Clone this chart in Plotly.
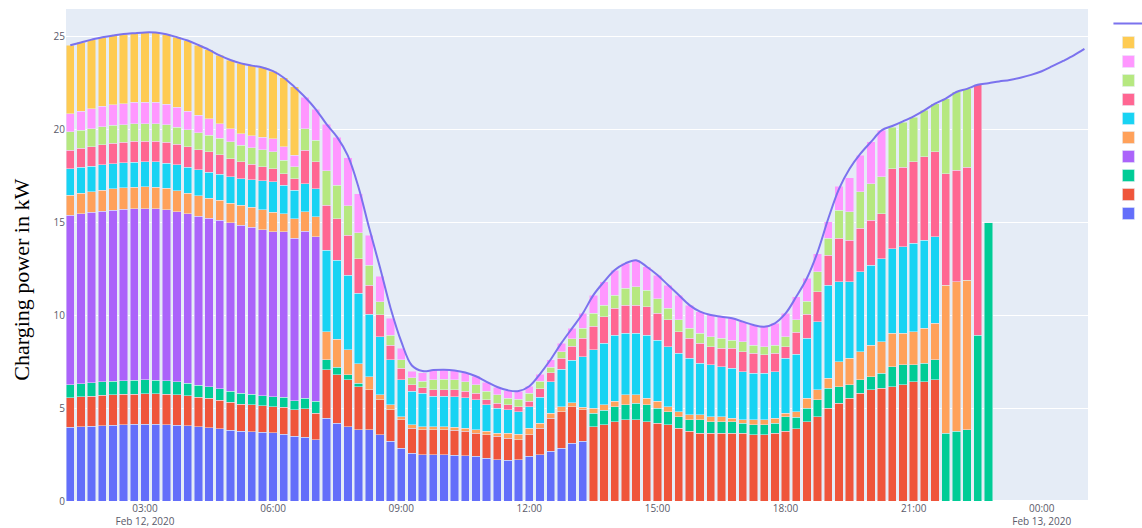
import pandas as pd
import plotly.graph_objects as go

# 15-minute slots on 12 Feb 2020
slot_times = pd.date_range("2020-02-12 01:15", "2020-02-12 22:45", freq="15min")
line_times = pd.date_range("2020-02-12 01:15", "2020-02-13 01:00", freq="15min")

N = None

blue = [3.96, 4.0, 4.03, 4.06, 4.09, 4.11, 4.13, 4.14, 4.13, 4.12, 4.08, 4.04, 4.0, 3.95, 3.89, 3.82, 3.76, 3.73, 3.7, 3.67, 3.6, 3.49, 3.44, 3.31,
        4.46, 4.19, 4.01, 3.83, 3.83, 3.57, 3.21, 2.85, 2.58, 2.49, 2.49, 2.49, 2.47, 2.44, 2.4, 2.31, 2.22, 2.2, 2.22, 2.4, 2.49, 2.67, 2.85, 3.12, 3.21] + [N] * 38

red = [1.61, 1.62, 1.62, 1.63, 1.63, 1.63, 1.63, 1.63, 1.64, 1.63, 1.63, 1.62, 1.6, 1.59, 1.55, 1.5, 1.46, 1.45, 1.43, 1.42, 1.45, 1.42, 1.52, 1.42,
       2.6, 2.6, 2.51, 2.33, 2.15, 1.88, 1.7, 1.52, 1.34, 1.34, 1.34, 1.34, 1.35, 1.33, 1.26, 1.26, 1.26, 1.19, 1.08, 1.17, 1.43, 1.79, 1.97, 1.97, 1.7,
       4.01, 4.11, 4.28, 4.37, 4.37, 4.28, 4.19, 4.11, 3.92, 3.75, 3.66, 3.66, 3.66, 3.66, 3.66, 3.57, 3.57, 3.66, 3.75, 3.9, 4.28, 4.55, 5.0, 5.27,
       5.54, 5.81, 5.98, 6.07, 6.16, 6.25, 6.43, 6.43, 6.52] + [N] * 5

green = [0.68, 0.7, 0.72, 0.73, 0.74, 0.75, 0.75, 0.75, 0.74, 0.72, 0.7, 0.67, 0.64, 0.62, 0.61, 0.6, 0.58, 0.56, 0.55, 0.53, 0.55, 0.48, 0.58, 0.63,
         0.54, 0.41, 0.27, 0.18] + [N] * 21 + \
        [0.72, 0.79, 0.81, 0.81, 0.9, 0.9, 0.81, 0.71, 0.63, 0.62, 0.71, 0.62, 0.62, 0.62, 0.53, 0.54, 0.54, 0.53, 0.8, 0.6, 0.72, 0.9, 1.08, 0.89,
         0.71, 0.71, 0.72, 0.81, 1.08, 1.08, 0.9, 0.99, 1.08,
         3.66, 3.75, 3.84, 8.94, 15.0]

purple = [9.14, 9.15, 9.17, 9.19, 9.21, 9.22, 9.23, 9.23, 9.24, 9.22, 9.18, 9.14, 9.1, 9.06, 9.06, 9.06, 9.06, 9.0, 8.93, 8.87, 8.9, 8.76, 9.0, 8.87] + [N] * 63

orange = [1.08, 1.1, 1.12, 1.14, 1.15, 1.16, 1.17, 1.17, 1.16, 1.15, 1.13, 1.11, 1.09, 1.08, 1.08, 1.07, 1.07, 1.07, 1.07, 1.07, 0.98, 1.05, 1.03, 1.07,
          1.52, 1.52, 1.35, 1.04, 0.72, 0.27, 0.27, 0.18, 0.18, 0.17, 0.16, 0.16, 0.16, 0.16, 0.19, 0.18, 0.18, 0.27, 0.3, 0.34, 0.27, 0.27, 0.27, 0.2, 0.15,
          0.27, 0.28, 0.27, 0.54, 0.45, 0.36, 0.36, 0.27, 0.27, 0.27, 0.27, 0.27, 0.27, 0.18, 0.18, 0.26, 0.26, 0.27, 0.18, 0.3, 0.54, 0.53, 0.53, 1.35,
          1.44, 1.53, 1.7, 1.7, 1.79, 1.7, 1.79, 1.88, 1.97,
          7.97, 8.06, 8.06, N, N]

cyan = [1.43, 1.4, 1.38, 1.36, 1.35, 1.34, 1.34, 1.34, 1.35, 1.36, 1.38, 1.4, 1.41, 1.42, 1.42, 1.42, 1.42, 1.48, 1.56, 1.64, 1.52, 1.54, 1.53, 1.53,
        4.39, 4.25, 4.03, 3.8, 3.36, 3.13, 2.42, 1.97, 1.8, 1.81, 1.64, 1.65, 1.64, 1.62, 1.6, 1.43, 1.34, 1.25, 1.22, 1.18, 1.4, 1.68, 2.0, 2.3, 2.72,
        3.14, 3.31, 3.58, 3.31, 3.31, 3.4, 3.31, 3.22, 3.14, 3.05, 2.78, 2.78, 2.69, 2.69, 2.6, 2.51, 2.51, 2.51, 2.96, 3.1, 3.22, 3.68, 5.02, 4.3,
        4.12, 4.3, 4.31, 4.48, 4.57, 4.66, 4.75, 4.75, 4.66] + [N] * 5

rose = [0.99, 1.02, 1.05, 1.08, 1.1, 1.11, 1.12, 1.12, 1.12, 1.12, 1.11, 1.1, 1.09, 1.08, 1.03, 0.97, 0.91, 0.84, 0.77, 0.7, 0.63, 0.63, 1.79, 1.43,
        2.42, 2.23, 2.15, 1.88, 1.57, 1.17, 0.8, 0.63, 0.37, 0.28, 0.37, 0.36, 0.36, 0.35, 0.35, 0.27, 0.27, 0.27, 0.25, 0.27, 0.45, 0.5, 0.6, 0.75, 0.98,
        1.26, 1.44, 1.43, 1.52, 1.52, 1.52, 1.43, 1.44, 1.16, 1.07, 1.07, 0.98, 0.98, 1.08, 1.08, 1.08, 0.99, 0.99, 0.62, 1.2, 1.3, 1.61, 1.61, 2.33,
        2.24, 2.33, 2.41, 2.42, 4.3, 4.3, 4.39, 4.48, 4.57,
        6.0, 6.0, 6.09, 13.48, N]

lime = [0.99, 0.98, 0.97, 0.96, 0.96, 0.95, 0.95, 0.95, 0.95, 0.94, 0.93, 0.92, 0.91, 0.9, 0.9, 0.9, 0.9, 0.9, 0.9, 0.9, 0.72, 0.63, 1.16, 1.17,
        1.87, 1.8, 1.58, 1.39, 1.07, 0.72, 0.54, 0.45, 0.36, 0.36, 0.54, 0.55, 0.55, 0.52, 0.47, 0.45, 0.45, 0.36, 0.4, 0.45, 0.4, 0.3, 0.35, 0.4, 0.54,
        0.7, 0.62, 0.72, 0.9, 0.99, 0.9, 0.8, 0.62, 0.63, 0.54, 0.54, 0.54, 0.54, 0.44, 0.53, 0.44, 0.44, 0.44, 0.54, 0.65, 0.7, 1.08, 0.9, 1.52,
        1.52, 1.97, 1.98, 1.98, 2.24, 2.42, 2.42, 2.51, 2.6,
        4.04, 4.22, 4.21, N, N]

pink = [0.98, 1.02, 1.06, 1.1, 1.12, 1.14, 1.15, 1.16, 1.15, 1.11, 1.06, 1.0, 0.95, 0.89, 0.79, 0.7, 0.62, 0.65, 0.68, 0.71, 0.72, 0.62, 1.7, 1.67,
        2.5, 2.6, 2.6, 2.1, 1.62, 1.36, 0.9, 0.63, 0.37, 0.45, 0.5, 0.52, 0.5, 0.5, 0.44, 0.5, 0.4, 0.41, 0.43, 0.36, 0.4, 0.4, 0.46, 0.56, 0.8,
        0.99, 1.26, 1.35, 1.35, 1.43, 1.26, 1.27, 1.26, 1.34, 1.25, 1.17, 1.17, 1.17, 1.17, 1.08, 1.08, 1.08, 1.17, 1.25, 1.25, 1.24, 0.98, 0.9, 1.3,
        1.83, 1.97, 2.24, 2.5] + [N] * 10

yellow = [3.69, 3.71, 3.73, 3.73, 3.72, 3.74, 3.73, 3.75, 3.75, 3.77, 3.78, 3.8, 3.77, 3.71, 3.67, 3.71, 3.79, 3.77, 3.76, 3.64, 3.73, 3.68] + [N] * 65

total_profile = [24.55, 24.7, 24.85, 24.98, 25.07, 25.15, 25.2, 25.24, 25.23, 25.14, 24.98, 24.8, 24.56, 24.3, 24.0, 23.75, 23.57, 23.45, 23.35, 23.15, 22.8, 22.3, 21.75, 21.1,
                 20.3, 19.6, 18.6, 16.9, 14.7, 12.6, 10.4, 8.6, 7.3, 7.0, 7.05, 7.07, 7.03, 6.92, 6.72, 6.42, 6.14, 5.96, 5.92, 6.18, 6.84, 7.62, 8.5, 9.3, 10.1,
                 11.09, 11.81, 12.44, 12.8, 12.97, 12.62, 12.17, 11.63, 11.09, 10.55, 10.2, 10.02, 9.93, 9.84, 9.66, 9.48, 9.39, 9.57, 10.1, 11.0, 12.0, 13.4, 15.2, 16.8,
                 17.9, 18.7, 19.34, 19.96, 20.2, 20.45, 20.72, 21.04, 21.4, 21.67, 22.03, 22.2, 22.42,
                 22.5, 22.6, 22.68, 22.8, 22.95, 23.15, 23.42, 23.7, 24.0, 24.35]

stack = [blue, red, green, purple, orange, cyan, rose, lime, pink, yellow]

fig = go.Figure()
for values in stack:
    fig.add_trace(go.Bar(x=slot_times, y=values, name=""))

fig.add_trace(go.Scatter(x=line_times, y=total_profile, mode="lines", name="",
                         line=dict(color="#7b72ee", width=2, shape="spline")))

fig.update_layout(
    template="plotly",
    barmode="stack",
    bargap=0.22,
    width=1142,
    height=528,
    margin=dict(l=66, r=54, t=9, b=27, autoexpand=False),
    font=dict(family="Open Sans, sans-serif", size=10, color="#5a5a6a"),
    legend=dict(x=1.02, y=1, font=dict(size=10)),
    xaxis=dict(range=["2020-02-12 01:09", "2020-02-13 01:05"], dtick=3 * 3600 * 1000,
               tick0="2020-02-12 00:00", showgrid=False, ticklen=0),
    yaxis=dict(range=[0, 26.5], dtick=5),
    annotations=[dict(text="Charging power in kW", textangle=-90, xref="paper", yref="paper",
                      x=-0.043, y=0.45, xanchor="center", yanchor="middle", showarrow=False,
                      font=dict(family="Liberation Serif, Times New Roman, serif", size=22, color="#000000"))],
)

fig.write_html("out.html")
